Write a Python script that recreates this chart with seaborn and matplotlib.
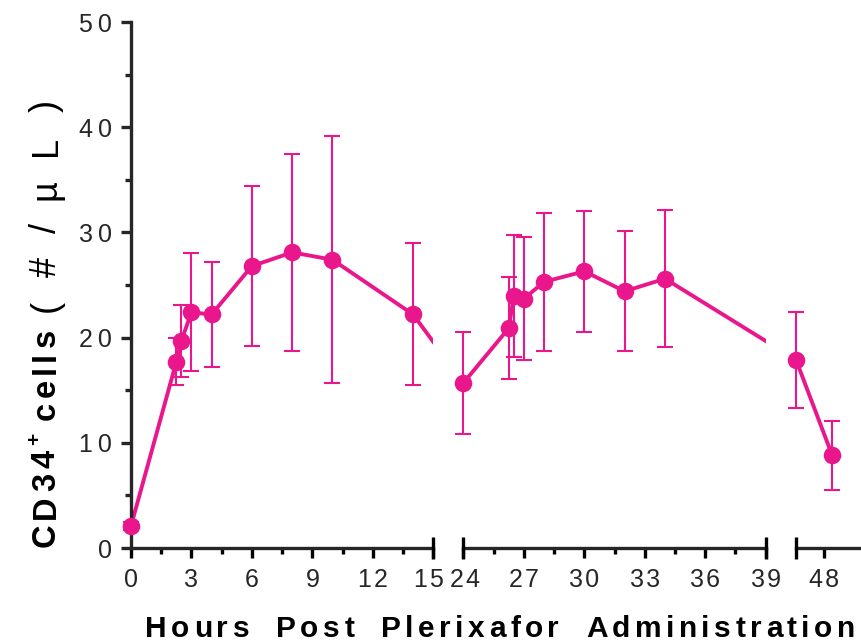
import numpy as np
import pandas as pd
import matplotlib
matplotlib.use("Agg")
import matplotlib.pyplot as plt
import seaborn as sns
from matplotlib.font_manager import FontProperties
from matplotlib.ticker import FixedLocator, FixedFormatter
from matplotlib.transforms import ScaledTranslation

# CD34+ cell counts after plerixafor, mean and SD per time point
hours = [0, 2.25, 2.5, 3, 4, 6, 8, 10, 14,
         24, 26.25, 26.5, 27, 28, 30, 32, 34,
         46.6, 48.4]
cd34_mean = [2.1, 17.7, 19.7, 22.4, 22.2, 26.8, 28.1, 27.4, 22.2,
             15.7, 20.9, 24.0, 23.7, 25.3, 26.3, 24.4, 25.6,
             17.9, 8.8]
cd34_sd = [0.4, 2.25, 3.4, 5.6, 5.0, 7.6, 9.4, 11.75, 6.75,
           4.85, 4.85, 5.8, 5.85, 6.55, 5.75, 5.7, 6.5,
           4.55, 3.3]

# broken x axis: visible hour ranges and their tick marks
segments = [(0, 15), (24, 39), (46.6, 49.9)]
seg_major = [[0, 3, 6, 9, 12, 15], [24, 27, 30, 33, 36, 39], [48]]
y_major = [0, 10, 20, 30, 40, 50]
y_minor = [5, 15, 25, 35, 45]

PINK = "#E9168C"
W_PX, H_PX = 862, 642
PX_PER_H = 20.15
GAP_H = 1.5
LEFT_PX = 131
Y_BOTTOM_PX, Y_TOP_PX = 548, 22  # measured from the top of the canvas
HAIR = "\u200a"
THIN = "\u2009"

sns.set_style("ticks")
plt.rcParams["font.family"] = ["Liberation Sans", "DejaVu Sans"]
plt.rcParams["axes.linewidth"] = 2.4


def compress(h):
    """Map hours onto a continuous coordinate with the gaps squeezed out."""
    base = 0.0
    for a, b in segments:
        if h <= b:
            return base + (h - a)
        base += (b - a) + GAP_H
    return base


df = pd.DataFrame({"hours": hours, "mean": cd34_mean, "sd": cd34_sd})
df["x"] = [compress(h) for h in df["hours"]]

fig = plt.figure(figsize=(W_PX / 100, H_PX / 100), dpi=100)

axes = []
for i, (a, b) in enumerate(segments):
    left = LEFT_PX + compress(a) * PX_PER_H
    width = (b - a) * PX_PER_H
    ax = fig.add_axes([left / W_PX, (H_PX - Y_BOTTOM_PX) / H_PX,
                       width / W_PX, (Y_BOTTOM_PX - Y_TOP_PX) / H_PX])
    ax.patch.set_alpha(0)
    axes.append(ax)

    sns.lineplot(data=df, x="x", y="mean", ax=ax, color=PINK, lw=2.8,
                 estimator=None, sort=False, zorder=2)
    sub = df[(df["hours"] >= a) & (df["hours"] <= b)]
    ax.errorbar(sub["x"], sub["mean"], yerr=sub["sd"], fmt="none",
                ecolor=PINK, elinewidth=1.5, capsize=6, capthick=1.5,
                clip_on=False, zorder=2)
    sns.scatterplot(data=sub, x="x", y="mean", ax=ax, color=PINK, s=160,
                    linewidth=0, zorder=4, clip_on=False)

    ax.set_xlim(compress(a), compress(b))
    ax.set_ylim(0, 50)
    ax.set_xlabel("")
    ax.set_ylabel("")
    for side in ("top", "right"):
        ax.spines[side].set_visible(False)

    major = seg_major[i]
    minor = [t for t in np.arange(a + 1.5, b, 3.0)] if i < 2 else []
    ax.xaxis.set_major_locator(FixedLocator([compress(t) for t in major]))
    ax.xaxis.set_major_formatter(FixedFormatter([HAIR.join(str(t)) for t in major]))
    ax.xaxis.set_minor_locator(FixedLocator([compress(t) for t in minor]))
    ax.tick_params(axis="x", which="major", length=7.5, width=2.4,
                   labelsize=18, pad=7, color="black")
    ax.tick_params(axis="x", which="minor", length=4, width=2.4, color="black")

    if i == 0:
        ax.yaxis.set_major_locator(FixedLocator(y_major))
        ax.yaxis.set_major_formatter(FixedFormatter([THIN.join(str(t)) for t in y_major]))
        ax.yaxis.set_minor_locator(FixedLocator(y_minor))
        ax.tick_params(axis="y", which="major", length=7.5, width=2.4,
                       labelsize=18, pad=6)
        ax.tick_params(axis="y", which="minor", length=4, width=2.4)
    else:
        ax.spines["left"].set_visible(False)
        ax.tick_params(axis="y", which="both", left=False, labelleft=False)

    # end caps where the axis is broken
    ends = []
    if i > 0:
        ends.append(a)
    if i < len(segments) - 1:
        ends.append(b)
    for e in ends:
        ax.plot([compress(e)], [0], marker="|", markersize=16, mew=2.4,
                color="black", transform=ax.get_xaxis_transform(),
                clip_on=False, zorder=5)

# nudge the two labels either side of the first break apart
fig.canvas.draw()
labels_1 = axes[0].get_xticklabels()
labels_2 = axes[1].get_xticklabels()
labels_1[-1].set_transform(labels_1[-1].get_transform()
                           + ScaledTranslation(-4 / 100, 0, fig.dpi_scale_trans))
labels_2[0].set_transform(labels_2[0].get_transform()
                          + ScaledTranslation(2 / 100, 0, fig.dpi_scale_trans))


def tracked_label(runs, start, length, vertical=False, space_em=0.45):
    """Draw letter-spaced text made of styled runs, filling a given length."""
    renderer = fig.canvas.get_renderer()
    glyphs = []
    for text, fp, rise in runs:
        size_px = fp.get_size_in_points() * fig.dpi / 72
        for ch in text:
            if ch == " ":
                w = space_em * size_px
            else:
                w = renderer.get_text_width_height_descent(ch, fp, ismath=False)[0]
            glyphs.append((ch, fp, rise, w))
    natural = sum(g[3] for g in glyphs)
    gap = (length - natural) / (len(glyphs) - 1)
    pos = 0.0
    for ch, fp, rise, w in glyphs:
        if ch != " ":
            if vertical:
                x, y = start[0] - rise, start[1] + pos
            else:
                x, y = start[0] + pos, start[1] + rise
            fig.text(x / W_PX, y / H_PX, ch, fontproperties=fp,
                     rotation=90 if vertical else 0, rotation_mode="anchor",
                     ha="left", va="baseline", color="black")
        pos += w + gap


bold_x = FontProperties(family="Liberation Sans", weight="bold", size=21.5)
bold_y = FontProperties(family="Liberation Sans", weight="bold", size=23.5)
bold_sup = FontProperties(family="Liberation Sans", weight="bold", size=15)
regular_y = FontProperties(family="Liberation Sans", weight="normal", size=26)

tracked_label([("Hours Post Plerixafor Administration", bold_x, 0)],
              start=(145, H_PX - 637), length=710, space_em=0.6)
tracked_label([("CD34", bold_y, 0), ("+", bold_sup, 15), (" cells", bold_y, 0)],
              start=(55, H_PX - 547), length=218, vertical=True, space_em=0.12)
tracked_label([("(#/\u00b5L)", regular_y, 0)],
              start=(56, H_PX - 312), length=212, vertical=True)

fig.savefig("out.png", dpi=100)
